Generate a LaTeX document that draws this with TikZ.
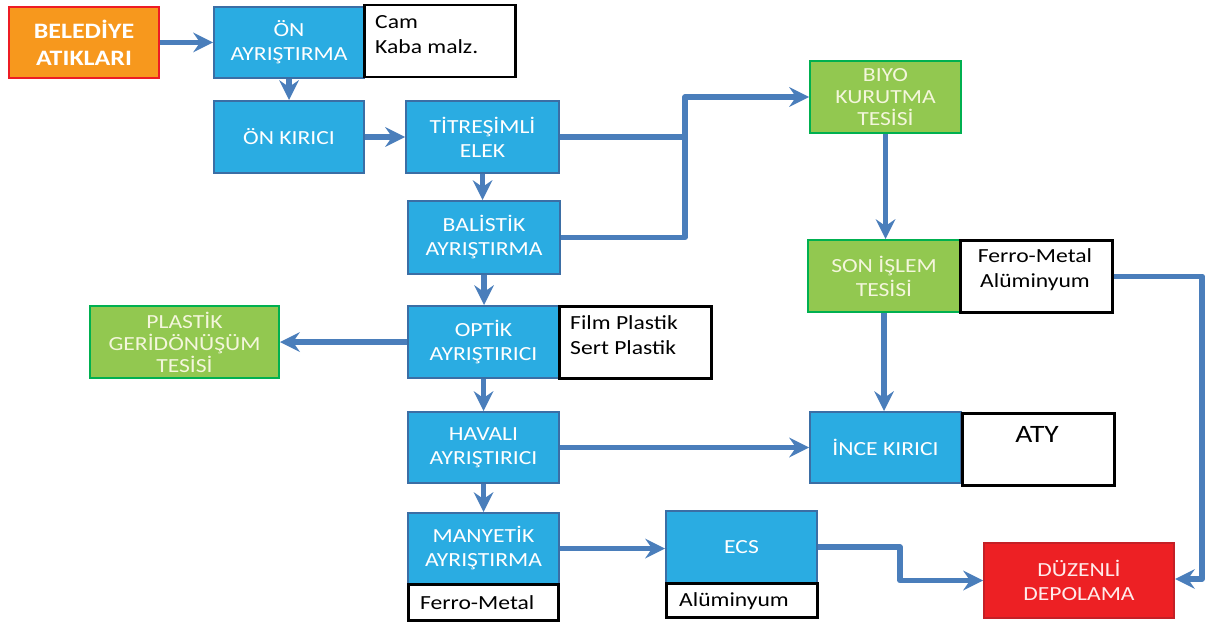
\documentclass[tikz,border=0pt]{standalone}
\usepackage{fontspec}
\setmainfont[FakeStretch=1.18]{Carlito}
\usetikzlibrary{arrows.meta}
\definecolor{bfill}{HTML}{2AACE2}
\definecolor{bline}{HTML}{3B6EA5}
\definecolor{gfill}{HTML}{92C850}
\definecolor{gline}{HTML}{00B050}
\definecolor{ofill}{HTML}{F7981D}
\definecolor{rline}{HTML}{ED1C24}
\definecolor{dfill}{HTML}{ED2024}
\definecolor{dline}{HTML}{C42026}
\definecolor{flowc}{HTML}{4A7EBB}
\definecolor{gtext}{HTML}{F4F6DC}
\tikzset{
  x=1pt,y=-1pt,
  base/.style={rectangle, anchor=north west, align=center, inner sep=0pt,
    font=\fontsize{20}{24}\selectfont},
  bbox/.style={base, fill=bfill, draw=bline, line width=2pt, text=white},
  gbox/.style={base, fill=gfill, draw=gline, line width=2pt, text=gtext, font=\fontsize{20}{22}\selectfont},
  obox/.style={base, fill=ofill, draw=rline, line width=2pt, text=white, font=\fontsize{22}{27}\selectfont\bfseries},
  dbox/.style={base, fill=dfill, draw=dline, line width=2pt, text=white!92!red},
  wbox/.style={base, fill=white, draw=black, line width=2.5pt},
  wtext/.style={anchor=north west, align=left, inner sep=0pt, font=\fontsize{20}{25}\selectfont},
  flow/.style={draw=flowc, line width=5.5pt, line join=round,
    -{Stealth[length=20pt,width=20pt,inset=7pt,line width=0pt]}},
  flowline/.style={draw=flowc, line width=5.5pt, line join=round},
}
\begin{document}
\begin{tikzpicture}
\useasboundingbox (0,0) rectangle (1210,623);
% main column
\node[obox, minimum width=150, minimum height=71] (bel) at (8,6) {BELEDİYE\\ATIKLARI};
\node[bbox, minimum width=150, minimum height=71] (onay) at (213,6) {ÖN\\AYRIŞTIRMA};
\node[wbox, minimum width=151, minimum height=72] (cam) at (363,4) {};
\node[wtext] at (375,15) {Cam\\Kaba malz.};
\node[bbox, minimum width=150, minimum height=72] (onkir) at (213,100) {ÖN KIRICI};
\node[bbox, minimum width=153, minimum height=72] (titr) at (405,100) {TİTREŞİMLİ\\ELEK};
\node[bbox, minimum width=152, minimum height=73] (bal) at (407,200) {BALİSTİK\\AYRIŞTIRMA};
\node[bbox, minimum width=151, minimum height=72] (opt) at (407,305) {OPTİK\\AYRIŞTIRICI};
\node[wbox, minimum width=152, minimum height=72] (film) at (558,305) {};
\node[wtext] at (570,315) {Film Plastik\\Sert Plastik};
\node[gbox, minimum width=189, minimum height=72] (plas) at (89,305) {PLASTİK\\GERİDÖNÜŞÜM\\TESİSİ};
\node[bbox, minimum width=151, minimum height=71] (hav) at (407,411) {HAVALI\\AYRIŞTIRICI};
\node[bbox, minimum width=151, minimum height=71] (man) at (407,512) {MANYETİK\\AYRIŞTIRMA};
\node[wbox, minimum width=150, minimum height=36] (fe1) at (407,583) {};
\node[wtext, anchor=west] at (420,603) {Ferro-Metal};
\node[bbox, minimum width=151, minimum height=72] (ecs) at (665,510) {ECS};
\node[wbox, minimum width=151, minimum height=34] (al1) at (665,582) {};
\node[wtext, anchor=west] at (679,601) {Alüminyum};
% right column
\node[gbox, minimum width=151, minimum height=72] (biyo) at (809,60) {BIYO\\KURUTMA\\TESİSİ};
\node[gbox, minimum width=152, minimum height=72, font=\fontsize{20}{24}\selectfont] (son) at (807,239) {SON İŞLEM\\TESİSİ};
\node[wbox, minimum width=152, minimum height=72] (fm) at (959,239) {};
\node[wtext, align=center, anchor=north] at (1035,248) {Ferro-Metal\\Alüminyum};
\node[bbox, minimum width=151, minimum height=71] (ince) at (809,411) {İNCE KIRICI};
\node[wbox, minimum width=152, minimum height=72] (aty) at (961,412) {};
\node[anchor=base, inner sep=0pt, font=\fontsize{25}{30}\selectfont] at (1037,442) {ATY};
\node[dbox, minimum width=190, minimum height=75] (dep) at (983,542) {DÜZENLİ\\DEPOLAMA};
% junction coordinates
\coordinate (j) at (685,97);
\coordinate (rr) at (1202,579);
\coordinate (e) at (900,546);
% connectors
\draw[flow] (bel.east) -- (onay.west);
\draw[flow] (onay.south) -- (onkir.north);
\draw[flow] (onkir.east) -- (titr.west);
\draw[flow] (titr.south) -- (titr.south |- bal.north);
\draw[flow] (bal.south) -- (bal.south |- opt.north);
\draw[flow] (opt.south) -- (opt.south |- hav.north);
\draw[flow] (hav.south) -- (hav.south |- man.north);
\draw[flow] (opt.west) -- (plas.east);
\draw[flow] (hav.east) -- (hav.east -| ince.west);
\draw[flow] (man.east) -- (man.east -| ecs.west);
\draw[flowline] (titr.east) -- (titr.east -| j);
\draw[flow] (bal.east) -| (j) -- (j -| biyo.west);
\draw[flow] (biyo.south) -- (biyo.south |- son.north);
\draw[flow] (son.south) -- (son.south |- ince.north);
\draw[flow] (fm.east) -| (rr) -- (rr -| dep.east);
\draw[flow] (ecs.east) -| (e |- dep.west) -- (dep.west);
\end{tikzpicture}
\end{document}
